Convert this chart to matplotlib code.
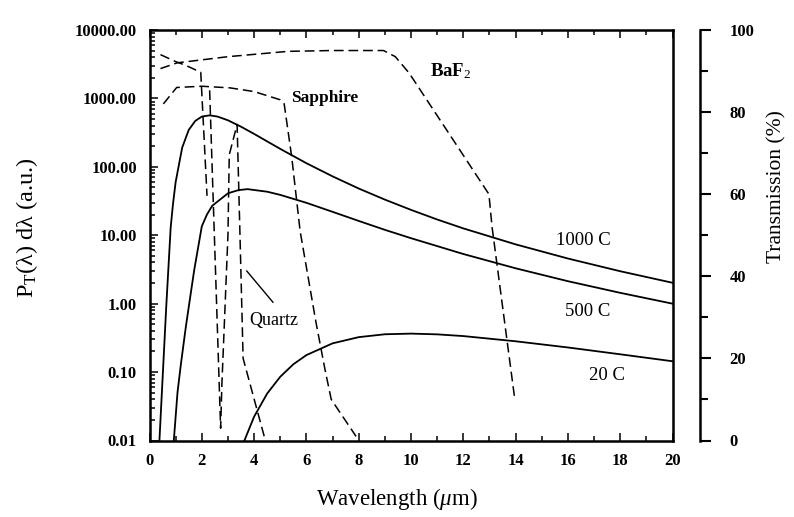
import matplotlib
matplotlib.use('Agg')
import matplotlib.pyplot as plt
from matplotlib.ticker import FixedLocator, FixedFormatter, MultipleLocator, LogLocator, NullFormatter

plt.rcParams['font.family'] = ['Liberation Serif', 'DejaVu Serif']
plt.rcParams['mathtext.fontset'] = 'custom'
plt.rcParams['mathtext.rm'] = 'Liberation Serif'
plt.rcParams['mathtext.it'] = 'Liberation Serif:italic'
plt.rcParams['mathtext.bf'] = 'Liberation Serif:bold'
plt.rcParams['lines.scale_dashes'] = False

# blackbody emission, P_T(lambda) dlambda (a.u.)
wl_1000 = [0.38, 0.5, 0.64, 0.81, 0.9, 1.0, 1.25, 1.5, 1.75, 2.0, 2.3, 2.6, 3.0, 3.5, 4.0,
           5.0, 6.0, 7.0, 8.0, 9.0, 10, 11, 12, 14, 16, 18, 20]
p_1000 = [0.01, 0.08, 0.9, 13, 29, 60, 191, 346, 469, 542, 566, 543, 479, 386, 303,
          183, 113, 72.6, 48.2, 33.2, 23.5, 17.0, 12.6, 7.36, 4.57, 2.98, 2.02]

wl_500 = [0.93, 1.07, 1.2, 1.39, 1.55, 1.71, 2.0, 2.2, 2.4, 3.0, 3.4, 3.75, 4.5, 5.0,
          6.0, 7.0, 8.0, 9.0, 10, 12, 14, 16, 18, 20]
p_500 = [0.01, 0.05, 0.13, 0.46, 1.2, 3.1, 13.5, 20.2, 27, 41, 45.7, 47.2, 43.3, 38.9,
         29.8, 22.0, 16.2, 12.0, 9.06, 5.32, 3.29, 2.13, 1.44, 1.00]

wl_20 = [3.63, 4.0, 4.5, 5.0, 5.5, 6.0, 7, 8, 9, 10, 11, 12, 14, 16, 18, 20]
p_20 = [0.01, 0.0223, 0.0486, 0.0855, 0.13, 0.177, 0.263, 0.324, 0.357, 0.365, 0.356,
        0.336, 0.282, 0.229, 0.182, 0.144]

# window transmission (%)
baf2_wl = [0.42, 1.06, 3.0, 5.3, 7.0, 8.95, 9.4, 9.93, 12.98, 13.1, 13.97]
baf2_t = [90.6, 92, 93.5, 94.8, 95, 95, 93.5, 89.5, 60, 52, 10]

sapph_wl = [0.53, 1.04, 2.0, 3.08, 4.0, 5.0, 5.15, 5.44, 5.76, 6.36, 6.72, 6.95, 7.9]
sapph_t = [82, 86, 86.3, 85.9, 85, 83, 82, 69, 51, 29, 17, 10, 1]

quartz_a_wl = [0.42, 1.0, 1.38, 1.96, 2.2]
quartz_a_t = [94, 92.3, 91.4, 89.7, 59.6]

quartz_b_wl = [2.3, 2.72, 2.77, 3.0, 3.05, 3.35, 3.46, 3.58, 4.43]
quartz_b_t = [85.3, 3, 14, 50, 69.6, 77, 50, 20, 0]

y_ticks = [0.01, 0.1, 1, 10, 100, 1000, 10000]
y_labels = ['0.01', '0.10', '1.00', '10.00', '100.00', '1000.00', '10000.00']

fig = plt.figure(figsize=(7.94, 5.17), dpi=100)
ax = fig.add_axes([149.5 / 794, 1 - 440.5 / 517, 523 / 794, 410.5 / 517])

ax.plot(wl_1000, p_1000, color='black', lw=1.3)
ax.plot(wl_500, p_500, color='black', lw=1.3)
ax.plot(wl_20, p_20, color='black', lw=1.3)

ax.set_yscale('log')
ax.set_xlim(0, 20)
ax.set_ylim(0.01, 10000)
ax.yaxis.set_major_locator(FixedLocator(y_ticks))
ax.yaxis.set_major_formatter(FixedFormatter(y_labels))
ax.yaxis.set_minor_locator(LogLocator(base=10, subs=range(2, 10), numticks=20))
ax.yaxis.set_minor_formatter(NullFormatter())
ax.xaxis.set_major_locator(MultipleLocator(2))
ax.xaxis.set_minor_locator(MultipleLocator(1))

ax.tick_params(which='both', direction='in', top=True, right=False, width=1.1)
ax.tick_params(which='major', length=6, labelsize=12, pad=9)
ax.tick_params(which='minor', length=3.5)
for lab in ax.get_xticklabels() + ax.get_yticklabels():
    lab.set_fontweight('bold')
for s in ax.spines.values():
    s.set_linewidth(1.8)

ax2 = ax.twinx()
dash = (0, (7, 3.5))
ax2.plot(baf2_wl, baf2_t, color='black', lw=1.1, ls=dash)
ax2.plot(sapph_wl, sapph_t, color='black', lw=1.1, ls=dash)
ax2.plot(quartz_a_wl, quartz_a_t, color='black', lw=1.1, ls=dash)
ax2.plot(quartz_b_wl, quartz_b_t, color='black', lw=1.1, ls=dash)
ax2.set_ylim(0, 100)
ax2.yaxis.set_major_locator(MultipleLocator(20))
ax2.yaxis.set_minor_locator(MultipleLocator(10))
for side in ['top', 'bottom', 'left']:
    ax2.spines[side].set_visible(False)
ax2.spines['right'].set_position(('outward', 20))
ax2.spines['right'].set_linewidth(1.8)
ax2.tick_params(which='both', direction='out', width=1.5)
ax2.tick_params(which='major', length=8, labelsize=12, pad=13)
ax2.tick_params(which='minor', length=6)
for lab in ax2.get_yticklabels():
    lab.set_fontweight('bold')

# curve labels
ax.text(6.7, 1000, 'Sapphire', fontsize=12.5, fontweight='bold', ha='center', va='center')
ax.text(11.5, 2500, 'BaF$_2$', fontsize=13.5, fontweight='bold', ha='center', va='center')
ax.text(16.6, 8.4, '1000 C', fontsize=13.5, ha='center', va='center')
ax.text(16.75, 0.78, '500 C', fontsize=13.5, ha='center', va='center')
ax.text(17.5, 0.088, '20 C', fontsize=13.5, ha='center', va='center')
ax.text(4.76, 0.56, 'Quartz', fontsize=13, ha='center', va='center')
ax.plot([3.72, 4.72], [3.0, 1.05], color='black', lw=1.0)

fig.text(397 / 794, 1 - 499 / 517, r'Wavelength ($\mu$m)', fontsize=16.5,
         ha='center', va='center')
fig.text(27 / 794, 1 - 228 / 517, r'P$_\mathrm{T}$(λ) dλ (a.u.)', fontsize=17.5,
         rotation=90, ha='center', va='center')
fig.text(777 / 794, 1 - 187 / 517, 'Transmission (%)', fontsize=15.5,
         rotation=90, ha='center', va='center')

fig.savefig('out.png', dpi=100)
